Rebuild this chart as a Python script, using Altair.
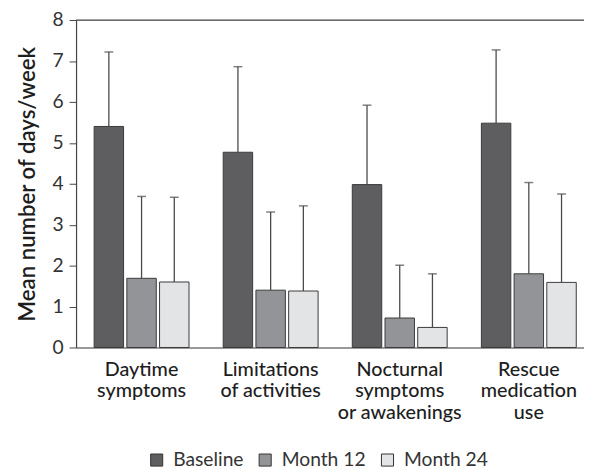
import altair as alt
import pandas as pd

categories = ["Daytime|symptoms", "Limitations|of activities", "Nocturnal|symptoms|or awakenings", "Rescue|medication|use"]
periods = ["Baseline", "Month 12", "Month 24"]
baseline = [5.4, 4.77, 3.98, 5.48]
baseline_top = [7.22, 6.86, 5.92, 7.27]
month12 = [1.69, 1.4, 0.72, 1.8]
month12_top = [3.69, 3.31, 2.01, 4.03]
month24 = [1.6, 1.38, 0.49, 1.59]
month24_top = [3.67, 3.46, 1.8, 3.75]
colors = ["#5e5e60", "#929497", "#e3e4e6"]

rows = []
for per, vals, tops in zip(periods, [baseline, month12, month24], [baseline_top, month12_top, month24_top]):
    for c, v, t in zip(categories, vals, tops):
        rows.append({"category": c, "period": per, "mean": v, "top": t})
df = pd.DataFrame(rows)

FONT = "Lato"

xenc = alt.X("category:N", sort=categories,
             scale=alt.Scale(paddingInner=0.265, paddingOuter=0.1, align=0.7),
             axis=alt.Axis(title=None, labelAngle=0, ticks=False, labelPadding=12,
                           labelExpr="split(datum.value, '|')", labelFontSize=20,
                           labelLineHeight=22, labelColor="#1e1e1e", labelFont=FONT,
                           labelFontWeight=500,
                           domainColor="#444", domainWidth=1.2))
xoff = alt.XOffset("period:N", sort=periods, scale=alt.Scale(paddingInner=0.1))

base = alt.Chart(df)

bars = base.mark_bar(stroke="#3a3a3a", strokeWidth=1).encode(
    x=xenc,
    xOffset=xoff,
    y=alt.Y("mean:Q", scale=alt.Scale(domain=[0, 8]),
            axis=alt.Axis(title="Mean number of days/week", values=list(range(9)),
                          tickSize=7, tickColor="#444", domainColor="#444", domainWidth=1.2,
                          labelFontSize=19.5, labelColor="#333", labelPadding=6, labelFont=FONT,
                          titleFontSize=22.5, titleFontWeight=600, titleColor="#1e1e1e",
                          titleFont=FONT, titlePadding=13, grid=False)),
    color=alt.Color("period:N", sort=periods,
                    scale=alt.Scale(domain=periods, range=colors),
                    legend=alt.Legend(title=None, orient="none", direction="horizontal",
                                      legendX=72, legendY=436,
                                      symbolType="square", symbolSize=150,
                                      symbolStrokeColor="#333", symbolStrokeWidth=1,
                                      labelFontSize=19.5, labelColor="#333", labelFont=FONT,
                                      columnPadding=12, labelOffset=7)),
)

err = base.mark_rule(color="#4a4a4a", strokeWidth=1.3).encode(
    x=alt.X("category:N", sort=categories),
    xOffset=alt.XOffset("period:N", sort=periods),
    y="mean:Q",
    y2="top:Q",
)

caps = base.mark_tick(color="#4a4a4a", thickness=1.5, size=9, orient="horizontal").encode(
    x=alt.X("category:N", sort=categories),
    xOffset=alt.XOffset("period:N", sort=periods),
    y="top:Q",
)

top_line = alt.Chart(pd.DataFrame({"v": [8]})).mark_rule(color="#444", strokeWidth=1.2).encode(
    y=alt.Y("v:Q")
)

chart = alt.layer(bars, err, caps, top_line).properties(
    width=515, height=332,
    autosize=alt.AutoSizeParams(type="none"),
    padding={"left": 69, "top": 9, "right": 0, "bottom": 120},
).configure_view(stroke=None).configure(font=FONT)

chart.save("out.html", embed_options={"renderer": "svg", "actions": False})
